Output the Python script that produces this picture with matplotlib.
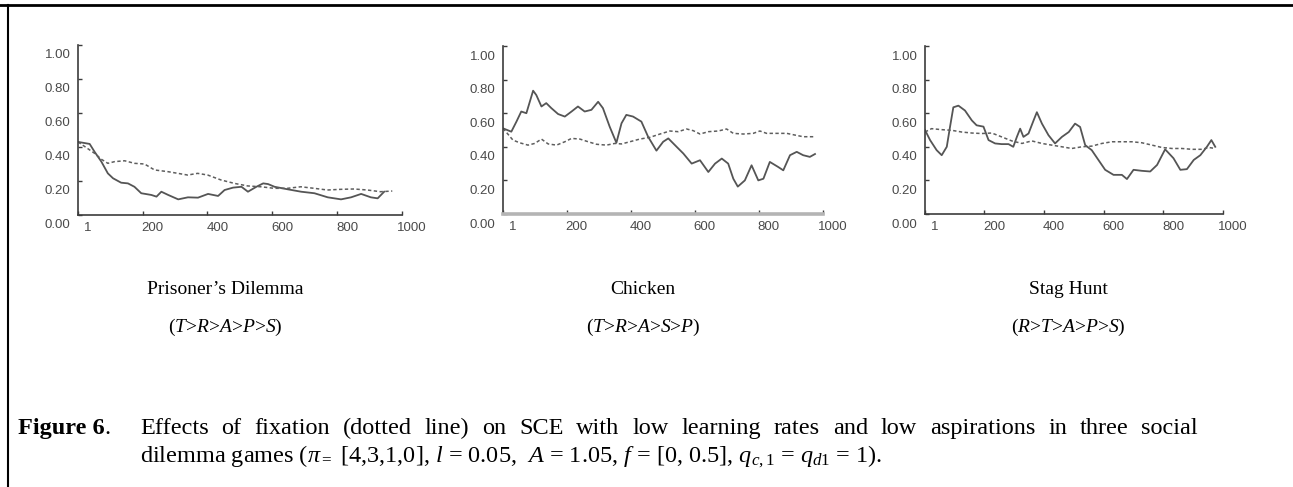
import matplotlib.pyplot as plt
import matplotlib.transforms as mtransforms
from matplotlib.lines import Line2D

pd_x_plain = [1, 37, 52, 73, 93, 109, 134, 155, 175, 196, 227, 243, 258, 279, 310, 340, 371,
              402, 433, 453, 479, 505, 525, 551, 572, 587, 607, 648, 689, 730, 771, 812,
              843, 874, 904, 925, 945]
pd_y_plain = [0.43, 0.418, 0.372, 0.314, 0.245, 0.216, 0.19, 0.186, 0.166, 0.128, 0.118,
              0.108, 0.137, 0.118, 0.092, 0.104, 0.102, 0.124, 0.112, 0.147, 0.161, 0.166,
              0.137, 0.166, 0.186, 0.182, 0.166, 0.151, 0.137, 0.128, 0.104, 0.092, 0.104,
              0.124, 0.104, 0.098, 0.137]
pd_x_fix = [1, 52, 73, 93, 114, 145, 175, 206, 237, 278, 309, 339, 370, 401, 442, 483, 524,
            565, 606, 647, 688, 729, 770, 811, 852, 893, 934, 970]
pd_y_fix = [0.43, 0.363, 0.328, 0.304, 0.314, 0.319, 0.304, 0.30, 0.265, 0.255, 0.245,
            0.235, 0.245, 0.235, 0.206, 0.186, 0.171, 0.166, 0.157, 0.157, 0.166, 0.157,
            0.147, 0.151, 0.153, 0.147, 0.137, 0.141]

ch_x_plain = [1, 27, 43, 58, 74, 95, 105, 121, 136, 152, 173, 194, 215, 235, 256, 277, 298,
              313, 334, 355, 371, 386, 407, 433, 454, 480, 501, 517, 543, 564, 590, 616,
              642, 663, 684, 704, 720, 734, 756, 777, 798, 814, 834, 860, 876, 897, 918,
              938, 959, 975]
ch_y_plain = [0.51, 0.49, 0.55, 0.61, 0.60, 0.734, 0.708, 0.64, 0.66, 0.63, 0.595, 0.58,
              0.61, 0.64, 0.61, 0.62, 0.668, 0.63, 0.52, 0.424, 0.54, 0.59, 0.58, 0.55,
              0.46, 0.377, 0.43, 0.45, 0.40, 0.36, 0.30, 0.32, 0.25, 0.30, 0.33, 0.30,
              0.21, 0.163, 0.20, 0.29, 0.20, 0.21, 0.31, 0.28, 0.26, 0.35, 0.37, 0.35,
              0.34, 0.357]
ch_x_fix = [1, 32, 53, 79, 100, 121, 142, 168, 194, 215, 241, 267, 293, 324, 350, 371, 397,
            428, 459, 491, 522, 548, 574, 595, 616, 642, 673, 699, 720, 751, 782, 803, 824,
            855, 887, 912, 938, 975]
ch_y_fix = [0.51, 0.44, 0.424, 0.41, 0.42, 0.446, 0.417, 0.41, 0.43, 0.45, 0.446, 0.43,
            0.415, 0.41, 0.42, 0.417, 0.43, 0.446, 0.456, 0.476, 0.494, 0.49, 0.506, 0.496,
            0.476, 0.49, 0.494, 0.506, 0.48, 0.476, 0.48, 0.494, 0.48, 0.48, 0.48, 0.47,
            0.46, 0.46]

sh_x_plain = [1, 18, 40, 57, 74, 85, 96, 113, 135, 158, 174, 197, 214, 236, 258, 281, 297,
              309, 320, 331, 348, 365, 376, 393, 415, 437, 460, 483, 504, 521, 538, 560,
              583, 605, 633, 661, 678, 700, 728, 756, 779, 806, 834, 857, 879, 902, 924,
              946, 961, 974]
sh_y_plain = [0.50, 0.44, 0.38, 0.35, 0.40, 0.52, 0.635, 0.645, 0.616, 0.557, 0.528, 0.52,
              0.44, 0.42, 0.416, 0.416, 0.40, 0.459, 0.508, 0.459, 0.479, 0.557, 0.606,
              0.538, 0.469, 0.42, 0.459, 0.488, 0.538, 0.518, 0.41, 0.38, 0.32, 0.263,
              0.233, 0.233, 0.208, 0.263, 0.257, 0.253, 0.292, 0.385, 0.332, 0.263, 0.267,
              0.322, 0.35, 0.40, 0.44, 0.40]
sh_x_fix = [1, 23, 57, 91, 124, 158, 191, 225, 258, 292, 326, 359, 393, 426, 460, 493, 527,
            560, 594, 628, 661, 695, 728, 762, 795, 829, 862, 896, 930, 952, 974]
sh_y_fix = [0.488, 0.508, 0.502, 0.498, 0.488, 0.482, 0.479, 0.482, 0.459, 0.435, 0.42,
            0.435, 0.42, 0.41, 0.40, 0.39, 0.40, 0.404, 0.42, 0.43, 0.43, 0.43, 0.424,
            0.41, 0.396, 0.39, 0.39, 0.385, 0.385, 0.396, 0.39]

games = ["Prisoner\u2019s Dilemma", "Chicken", "Stag Hunt"]
orders = [r"($T$>$R$>$A$>$P$>$S$)", r"($T$>$R$>$A$>$S$>$P$)", r"($R$>$T$>$A$>$P$>$S$)"]
y_ticks = [0.0, 0.2, 0.4, 0.6, 0.8, 1.0]
y_labels = ["0.00", "0.20", "0.40", "0.60", "0.80", "1.00"]
x_ticks = [1, 200, 400, 600, 800, 1000]
x_labels = ["1", "200", "400", "600", "800", "1000"]
caption_line1 = ("Effects of fixation (dotted line) on SCE with low learning rates and low "
                 "aspirations in three social")
caption_line2 = (r"dilemma games ($\pi_{=}$ [4,3,1,0], $l$ = 0.05,  $A$ = 1.05, "
                 r"$f$ = [0, 0.5], $q_{c,1}$ = $q_{d1}$ = 1).")

plt.rcParams['mathtext.fontset'] = 'custom'
plt.rcParams['mathtext.rm'] = 'Liberation Serif'
plt.rcParams['mathtext.it'] = 'Liberation Serif:italic'
plt.rcParams['mathtext.bf'] = 'Liberation Serif:bold'

W, H = 1293, 487
fig = plt.figure(figsize=(W / 100, H / 100), dpi=100)
renderer = fig.canvas.get_renderer()

# axes boxes in pixels: left, x-axis row, right, top
boxes = [(78, 215, 402, 45), (503, 214, 823, 46), (925, 214, 1223, 46)]
series = [(pd_x_plain, pd_y_plain, pd_x_fix, pd_y_fix),
          (ch_x_plain, ch_y_plain, ch_x_fix, ch_y_fix),
          (sh_x_plain, sh_y_plain, sh_x_fix, sh_y_fix)]
title_x = [225, 643, 1068]

axis_col = '#3c3c3c'
for i, (l, b, r, t) in enumerate(boxes):
    ax = fig.add_axes([l / W, (H - b) / H, (r - l) / W, (b - t) / H])
    xp, yp, xf, yf = series[i]
    ax.plot(xp, yp, color='#555555', lw=1.3, solid_joinstyle='round')
    ax.plot(xf, yf, color='#5e5e5e', lw=1.1, linestyle=(0, (2.2, 1.6)))
    ax.set_xlim(1, 1000)
    ax.set_ylim(0, 1.0)
    for side in ['top', 'right']:
        ax.spines[side].set_visible(False)
    ax.spines['left'].set_color(axis_col)
    ax.spines['left'].set_linewidth(1.2)
    if i == 1:
        ax.spines['bottom'].set_color('#b4b4b4')
        ax.spines['bottom'].set_linewidth(2.6)
    else:
        ax.spines['bottom'].set_color(axis_col)
        ax.spines['bottom'].set_linewidth(1.2)
    ax.set_yticks(y_ticks)
    ax.set_yticklabels(y_labels)
    ax.set_xticks(x_ticks)
    ax.set_xticklabels(x_labels)
    ax.tick_params(direction='in', length=3, width=1, color=axis_col,
                   labelsize=9.5, labelcolor='#4a4a4a')
    ax.tick_params(axis='y', pad=5.5)
    ax.tick_params(axis='x', pad=5)
    for lab in ax.get_xticklabels() + ax.get_yticklabels():
        lab.set_fontfamily('Liberation Sans')
    dx = mtransforms.ScaledTranslation(10 / 100, 0, fig.dpi_scale_trans)
    for lab in ax.get_xticklabels():
        lab.set_transform(lab.get_transform() + dx)
    dy = mtransforms.ScaledTranslation(0, -9 / 100, fig.dpi_scale_trans)
    for lab in ax.get_yticklabels():
        lab.set_transform(lab.get_transform() + dy)

    fig.text(title_x[i] / W, (H - 289) / H, games[i], ha='center', va='center',
             family='Liberation Serif', fontsize=14)
    fig.text(title_x[i] / W, (H - 327) / H, orders[i], ha='center', va='center',
             family='Liberation Serif', fontsize=14)

# caption: bold label, then a justified first line and a ragged last line
cap_size = 17.5
cap_left, cap_right = 140, 1198
y1, y2 = (H - 434) / H, (H - 462) / H
lbl = fig.text(18 / W, y1, "Figure 6", ha='left', va='baseline',
               family='Liberation Serif', fontsize=cap_size, fontweight='bold')
lbl_end = lbl.get_window_extent(renderer).x1
fig.text(lbl_end / W, y1, ".", ha='left', va='baseline',
         family='Liberation Serif', fontsize=cap_size)

words = caption_line1.split(' ')
word_texts = [fig.text(0, y1, w, ha='left', va='baseline', family='Liberation Serif',
                       fontsize=cap_size) for w in words]
widths = [t.get_window_extent(renderer).width for t in word_texts]
gap = (cap_right - cap_left - sum(widths)) / (len(words) - 1)
x = cap_left
for t, w in zip(word_texts, widths):
    t.set_x(x / W)
    x += w + gap

fig.text(cap_left / W, y2, caption_line2, ha='left', va='baseline',
         family='Liberation Serif', fontsize=cap_size)

# frame around the figure block
fig.add_artist(Line2D([0, 1], [(H - 5) / H] * 2, color='black', lw=2))
fig.add_artist(Line2D([8 / W] * 2, [0, (H - 5) / H], color='black', lw=1.5))

fig.savefig('out.png', dpi=100)
